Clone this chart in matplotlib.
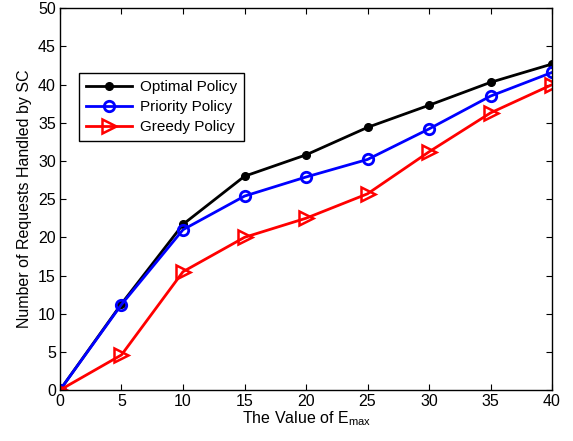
import numpy as np
import matplotlib
matplotlib.use("Agg")
import matplotlib.pyplot as plt

plt.rcParams['font.family'] = ['Liberation Sans', 'DejaVu Sans']
plt.rcParams['mathtext.fontset'] = 'custom'
plt.rcParams['mathtext.rm'] = 'Liberation Sans'

# data
e_max = [0, 5, 10, 15, 20, 25, 30, 35, 40]
optimal = [0, 11.3, 21.7, 28.0, 30.8, 34.4, 37.3, 40.3, 42.7]
priority = [0, 11.2, 21.0, 25.4, 27.9, 30.2, 34.2, 38.5, 41.6]
greedy = [0, 4.6, 15.5, 20.0, 22.5, 25.7, 31.2, 36.3, 40.0]

fig = plt.figure(figsize=(5.73, 4.41), dpi=100)
ax = fig.add_axes([0.1047, 0.1156, 0.8587, 0.8656])

ax.plot(e_max, optimal, color='black', lw=2, marker='o', ms=5.5,
        label='Optimal Policy')
ax.plot(e_max, priority, color='blue', lw=2, marker='o', ms=7.5,
        mfc='none', mew=2, label='Priority Policy')
ax.plot(e_max, greedy, color='red', lw=2, marker='>', ms=9.5,
        mfc='none', mew=1.8, label='Greedy Policy')

ax.set_xlim(0, 40)
ax.set_ylim(0, 50)
ax.set_xticks(np.arange(0, 41, 5))
ax.set_yticks(np.arange(0, 51, 5))
ax.tick_params(direction='in', top=True, right=True, labelsize=11.5, length=4, pad=3)
for s in ax.spines.values():
    s.set_linewidth(1)

ax.set_xlabel(r'The Value of E$_{\mathrm{max}}$', fontsize=11.5, labelpad=0)
ax.set_ylabel('Number of Requests Handled by SC', fontsize=11.5, labelpad=4)

leg = ax.legend(loc='upper left', bbox_to_anchor=(0.039, 0.83), fontsize=11,
                borderaxespad=0, fancybox=False, edgecolor='black', framealpha=1,
                handlelength=3.0, borderpad=0.45, labelspacing=0.4,
                handletextpad=0.5)
leg.get_frame().set_linewidth(1)

fig.savefig('out.png', dpi=100)
